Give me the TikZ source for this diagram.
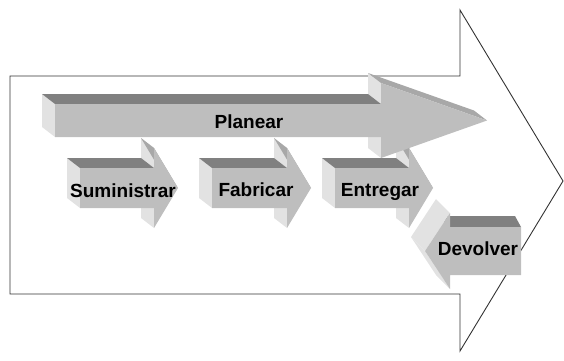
\documentclass[tikz,border=0pt]{standalone}
\usepackage{fontspec}
\setmainfont{Liberation Sans}
\usepackage{xcolor}
\usepackage{tikz}
\usetikzlibrary{positioning}
\definecolor{grisfrente}{RGB}{190,190,190}
\definecolor{grisoscuro}{RGB}{128,128,128}
\definecolor{grisclaro}{RGB}{226,226,226}
\definecolor{grismedio}{RGB}{168,168,168}
\tikzset{
    cara/.style = {fill=grisfrente},
    ladooscuro/.style = {fill=grisoscuro},
    ladoclaro/.style = {fill=grisclaro},
    ladomedio/.style = {fill=grismedio},
    etiqueta/.style = {inner sep=0pt, anchor=base, font=\fontsize{19}{19}\selectfont\bfseries},
    contorno/.style = {draw=black!80, line width=0.9pt, line join=miter},
}
% x0 y0 y1 xbase headtop headbottom tipx
\newcommand{\flechader}[7]{%
  \fill[ladoclaro] (#1,#2) -- (#1,#3) -- ++(-13,-10) -- (#1-13,#2-10) -- cycle;
  \fill[ladoclaro] (#4,#5) -- (#4,#2) -- ++(-13,-10) -- (#4-13,#5-10) -- cycle;
  \fill[ladoclaro] (#4,#3) -- (#4,#6) -- ++(-13,-10) -- (#4-13,#3-10) -- cycle;
  \fill[ladooscuro] (#1,#2) -- (#4,#2) -- ++(-13,-10) -- (#1-13,#2-10) -- cycle;
  \fill[ladomedio] (#4,#5) -- (#7,{(#2+#3)/2}) -- ++(-13,-10) -- (#4-13,#5-10) -- cycle;
  \fill[cara] (#1,#2) -- (#4,#2) -- (#4,#5) -- (#7,{(#2+#3)/2}) -- (#4,#6) -- (#4,#3) -- (#1,#3) -- cycle;
}

\begin{document}
\begin{tikzpicture}[x=1pt, y=-1pt]
\useasboundingbox (0,0) rectangle (564,360);

% outer arrow
\draw[contorno] (10,76) -- (460,76) -- (460,10) -- (563,181) -- (460,351) -- (460,294) -- (10,294) -- cycle;

\flechader{80}{168}{208}{154}{148}{228}{178}
\flechader{212}{168}{208}{287}{148}{228}{311}
\flechader{335}{168}{208}{409}{148}{228}{433}
\flechader{55}{104}{137}{381}{83}{158}{487}

% return arrow
\fill[ladooscuro] (450,227) -- (521,227) -- (515,216) -- (438,216) -- cycle;
\fill[ladoclaro] (425,251) -- (450,213) -- (436,199) -- (411,237) -- cycle;
\fill[ladoclaro] (425,251) -- (450,289) -- (436,275) -- (411,237) -- cycle;
\fill[cara] (425,251) -- (450,213) -- (450,227) -- (521,227) -- (521,275) -- (450,275) -- (450,289) -- cycle;

\node[etiqueta] (planear) at (249,128) {Planear};
\node[etiqueta] (suministrar) at (123,197) {Suministrar};
\node[etiqueta] (fabricar) at (256,196) {Fabricar};
\node[etiqueta] (entregar) at (380,196) {Entregar};
\node[etiqueta] (devolver) at (478,255) {Devolver};

\end{tikzpicture}
\end{document}
